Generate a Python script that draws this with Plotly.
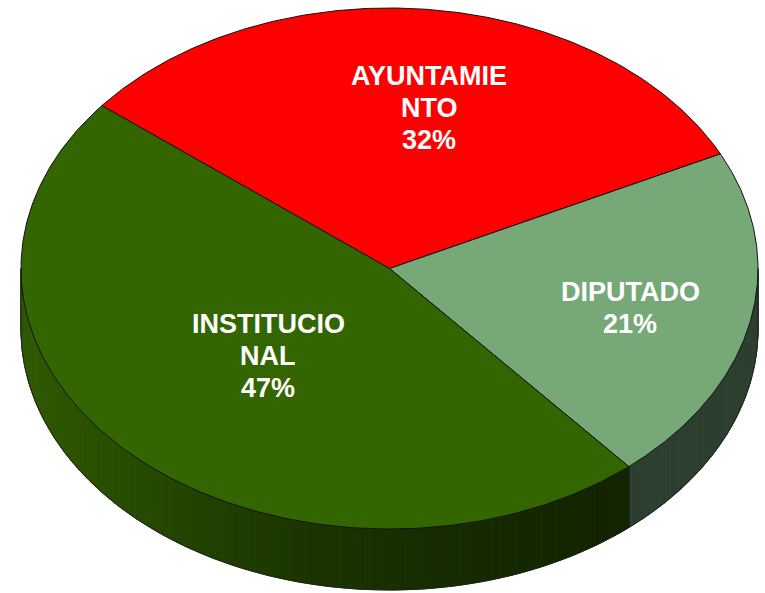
import numpy as np
import plotly.graph_objects as go

# ---- data ----
categories = ["AYUNTAMIENTO", "DIPUTADO", "INSTITUCIONAL"]
values = [32, 21, 47]
label_text = ["AYUNTAMIE<br>NTO", "DIPUTADO", "INSTITUCIO<br>NAL"]

# ---- styles / geometry ----
top_colors = ["#FF0000", "#76A878", "#336600"]
W, H = 765, 593
CX, CY, RX, RY, DEPTH = 389.5, 268.5, 368.5, 260.5, 61
START = 141.3  # degrees, slices run clockwise
label_pos = [(429, 107.5), (630, 308), (268, 356)]
LINE_GAP = 32
FONT_SIZE = 27


def side_color(i, x):
    if i == 0:
        return "rgb(140,0,0)"
    if i == 1:
        return "rgb(45,63,46)"
    xs = [21, 100, 200, 300, 450, 630]
    rs = [48, 42, 34, 28, 22, 18]
    gs = [90, 80, 66, 54, 44, 36]
    r = np.interp(x, xs, rs)
    g = np.interp(x, xs, gs)
    return f"rgb({int(r)},{int(g)},0)"


def pt(t, dz=0.0):
    r = np.radians(t)
    return CX + RX * np.cos(r), CY - RY * np.sin(r) + dz


total = sum(values)
spans = [v / total * 360 for v in values]
bounds = []
a0 = START
for s in spans:
    bounds.append((a0, a0 - s))
    a0 -= s

fig = go.Figure()

# ---- sides (front half only) ----
for i, (ts, te) in enumerate(bounds):
    for k in (-1, 0, 1):
        lo = max(te, -180 + 360 * k)
        hi = min(ts, 0 + 360 * k)
        if hi <= lo:
            continue
        n = max(2, int(np.ceil((hi - lo) / 1.0)))
        edges = np.linspace(lo, hi, n + 1)
        for j in range(n):
            tt = np.linspace(edges[j], edges[j + 1], 4)
            xt, yt = pt(tt)
            xb, yb = pt(tt[::-1], DEPTH)
            xs = np.concatenate([xt, xb, xt[:1]])
            ys = np.concatenate([yt, yb, yt[:1]])
            col = side_color(i, float(np.mean(xt)))
            fig.add_trace(go.Scatter(x=xs, y=ys, mode="lines", fill="toself",
                                     fillcolor=col, line=dict(color=col, width=1),
                                     hoverinfo="skip", showlegend=False))

# side outlines: bottom rim, extreme verticals, slice boundary verticals
tt = np.linspace(-180, 0, 361)
xb, yb = pt(tt, DEPTH)
fig.add_trace(go.Scatter(x=xb, y=yb, mode="lines", line=dict(color="#222222", width=1),
                         hoverinfo="skip", showlegend=False))
for t in [-180, 0] + [te for (_, te) in bounds]:
    tn = ((t + 180) % 360) - 180
    if -180 <= tn <= 0:
        x0, y0 = pt(tn)
        x1, y1 = pt(tn, DEPTH)
        fig.add_trace(go.Scatter(x=[x0, x1], y=[y0, y1], mode="lines",
                                 line=dict(color="#1a1a1a", width=1),
                                 hoverinfo="skip", showlegend=False))

# ---- top faces ----
for i, (ts, te) in enumerate(bounds):
    tt = np.linspace(ts, te, 200)
    xa, ya = pt(tt)
    xs = np.concatenate([[CX], xa, [CX]])
    ys = np.concatenate([[CY], ya, [CY]])
    fig.add_trace(go.Scatter(x=xs, y=ys, mode="lines", fill="toself",
                             fillcolor=top_colors[i], line=dict(color="#111111", width=1),
                             name=categories[i], hoverinfo="name", showlegend=False))

# ---- labels (one annotation per text line for Excel-like spacing) ----
for i, v in enumerate(values):
    pct = round(v / total * 100)
    lines = label_text[i].split("<br>") + [f"{pct}%"]
    n = len(lines)
    for k, line in enumerate(lines):
        fig.add_annotation(x=label_pos[i][0],
                           y=label_pos[i][1] + (k - (n - 1) / 2) * LINE_GAP,
                           text=f"<b>{line}</b>",
                           showarrow=False, xanchor="center", yanchor="middle",
                           font=dict(family="Liberation Sans, Arial, sans-serif",
                                     size=FONT_SIZE, color="white"))

fig.update_layout(
    width=W, height=H,
    margin=dict(l=0, r=0, t=0, b=0),
    paper_bgcolor="white", plot_bgcolor="white",
    showlegend=False,
    xaxis=dict(range=[0, W], visible=False, fixedrange=True),
    yaxis=dict(range=[H, 0], visible=False, fixedrange=True),
)

fig.write_html("out.html", post_script="document.body.style.margin='0';",
               config={"displayModeBar": False})
